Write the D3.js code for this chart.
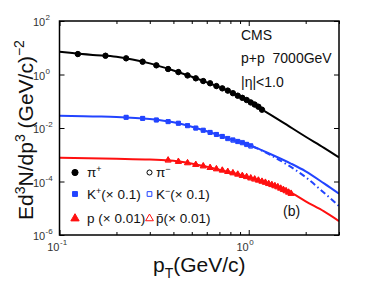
<!DOCTYPE html>
<html>
<head>
<meta charset="utf-8">
<script src="https://cdn.jsdelivr.net/npm/d3@7"></script>
<style>
  body { margin: 0; background: #fff; }
  text { font-family: "Liberation Sans", Arial, sans-serif; }
</style>
</head>
<body>
<div id="chart"></div>
<script>
// measured points (pT in GeV/c)
const piPt = [0.125, 0.175, 0.225, 0.275, 0.325, 0.375, 0.425, 0.475, 0.525, 0.575, 0.625,
  0.675, 0.725, 0.775, 0.825, 0.875, 0.925, 0.975, 1.025, 1.075, 1.125, 1.175];
const piPlus = [5.83, 5.05, 4.04, 3.02, 2.21, 1.61, 1.24, 0.93, 0.72, 0.57, 0.47,
  0.37, 0.305, 0.25, 0.20, 0.162, 0.135, 0.112, 0.091, 0.076, 0.063, 0.049];
const piMinus = [5.80, 5.02, 4.02, 3.00, 2.20, 1.60, 1.23, 0.92, 0.72, 0.57, 0.47,
  0.37, 0.303, 0.25, 0.20, 0.161, 0.134, 0.111, 0.090, 0.075, 0.062, 0.048];

const kPt = [0.225, 0.275, 0.325, 0.375, 0.425, 0.475, 0.525, 0.575, 0.625, 0.675, 0.725,
  0.775, 0.825, 0.875, 0.925, 0.975, 1.025];
const kPlus = [0.0251, 0.0229, 0.0200, 0.0174, 0.0151, 0.0123, 0.0100, 0.0083, 0.0069, 0.0058, 0.0049,
  0.0041, 0.0036, 0.0032, 0.0029, 0.0025, 0.0022];
const kMinus = [0.0250, 0.0228, 0.0199, 0.0173, 0.0150, 0.0122, 0.0099, 0.0082, 0.0068, 0.0057, 0.0048,
  0.0040, 0.0035, 0.0031, 0.0028, 0.0024, 0.0021];

const pPt = [0.375, 0.425, 0.475, 0.525, 0.575, 0.625, 0.675, 0.725, 0.775, 0.825, 0.875, 0.925, 0.975,
  1.025, 1.075, 1.125, 1.175, 1.225, 1.275, 1.325, 1.375, 1.425, 1.475, 1.525, 1.575, 1.625, 1.675];
const proton = [6.3e-4, 5.6e-4, 5.0e-4, 4.3e-4, 3.8e-4, 3.3e-4, 2.95e-4, 2.63e-4, 2.34e-4, 2.09e-4, 1.86e-4, 1.66e-4, 1.51e-4,
  1.35e-4, 1.23e-4, 1.12e-4, 1.02e-4, 9.3e-5, 8.3e-5, 7.6e-5, 6.9e-5, 6.3e-5, 5.6e-5, 5.0e-5, 4.5e-5, 4.0e-5, 3.6e-5];
const antiproton = [6.2e-4, 5.5e-4, 4.9e-4, 4.25e-4, 3.75e-4, 3.27e-4, 2.92e-4, 2.6e-4, 2.32e-4, 2.07e-4, 1.84e-4, 1.64e-4, 1.49e-4,
  1.33e-4, 1.21e-4, 1.10e-4, 1.0e-4, 9.1e-5, 8.2e-5, 7.5e-5, 6.8e-5, 6.2e-5, 5.5e-5, 4.9e-5, 4.4e-5, 3.9e-5, 3.5e-5];

// fitted curves
const fitPt = [0.1, 0.15, 0.2, 0.3, 0.4, 0.5, 0.6, 0.8, 1.0, 1.2, 1.5, 2.0, 2.5, 3.0];
const piFit = [7.1, 5.4, 4.6, 2.6, 1.41, 0.82, 0.51, 0.224, 0.10, 0.045, 0.017, 0.0047, 0.0018, 7.9e-4];
const kFitPt = [0.1, 0.15, 0.2, 0.3, 0.4, 0.5, 0.6, 0.8, 1.0, 1.3, 1.67, 2.0, 2.5, 3.0];
const kPlusFit = [0.029, 0.027, 0.0258, 0.0215, 0.0163, 0.0111, 0.0076, 0.00385, 0.00234, 0.00107, 4.7e-4, 2.4e-4, 8.5e-5, 3.5e-5];
const kMinusFitPt = [0.9, 1.0, 1.3, 1.67, 2.0, 2.5, 3.0];
const kMinusFit = [0.0030, 0.00234, 9.8e-4, 3.5e-4, 1.45e-4, 3.8e-5, 1.2e-5];
const pFitPt = [0.1, 0.2, 0.3, 0.4, 0.6, 0.8, 1.0, 1.25, 1.7, 2.0, 2.5, 3.0];
const pFit = [7.8e-4, 7.1e-4, 6.6e-4, 6.0e-4, 3.6e-4, 2.2e-4, 1.45e-4, 8.9e-5, 3.6e-5, 1.8e-5, 7.6e-6, 3.3e-6];

// ticks
const xMajor = [0.1, 1];
const xMajorExp = ["-1", "0"];
const xMinor = [0.2, 0.3, 0.4, 0.5, 0.6, 0.7, 0.8, 0.9, 2, 3];
const yMajor = [1e2, 1, 1e-2, 1e-4, 1e-6];
const yMajorExp = ["2", "0", "-2", "-4", "-6"];

const W = 374, H = 282;
const L = 59.5, R = 339, T = 21, B = 235;
const blue = "#2244ff", red = "#ff1010";

const svg = d3.select("#chart").append("svg")
  .attr("width", W).attr("height", H);

const x = d3.scaleLog().domain([0.1, 3]).range([L, R]);
const y = d3.scaleLog().domain([1e-6, 1e2]).range([B, T]);

svg.append("clipPath").attr("id", "clip")
  .append("rect").attr("x", L).attr("y", T).attr("width", R - L).attr("height", B - T);

// ticks (inward), no labels from d3
function noDomain(g) { g.select(".domain").remove(); }
svg.append("g").attr("transform", `translate(0,${B})`)
  .call(d3.axisBottom(x).tickValues(xMinor).tickSize(-3).tickFormat("")).call(noDomain);
svg.append("g").attr("transform", `translate(0,${B})`)
  .call(d3.axisBottom(x).tickValues(xMajor).tickSize(-5).tickFormat("")).call(noDomain);
svg.append("g").attr("transform", `translate(0,${T})`)
  .call(d3.axisTop(x).tickValues(xMinor).tickSize(-3).tickFormat("")).call(noDomain);
svg.append("g").attr("transform", `translate(0,${T})`)
  .call(d3.axisTop(x).tickValues(xMajor).tickSize(-5).tickFormat("")).call(noDomain);
svg.append("g").attr("transform", `translate(${L},0)`)
  .call(d3.axisLeft(y).tickValues(yMajor).tickSize(-5).tickFormat("")).call(noDomain);
svg.append("g").attr("transform", `translate(${R},0)`)
  .call(d3.axisRight(y).tickValues(yMajor).tickSize(-5).tickFormat("")).call(noDomain);
svg.selectAll(".tick line").attr("stroke", "#000").attr("stroke-width", 1);

// tick labels 10^n
xMajor.forEach((v, i) => {
  svg.append("text").attr("x", x(v)).attr("y", 251)
    .attr("text-anchor", "end").attr("font-size", 11).attr("fill", "#333").text("10");
  svg.append("text").attr("x", x(v) + 0.5).attr("y", 244.5)
    .attr("font-size", 8).attr("fill", "#333").text(xMajorExp[i]);
});
yMajor.forEach((v, i) => {
  svg.append("text").attr("x", 33).attr("y", y(v) + 5)
    .attr("font-size", 11).attr("fill", "#333").text("10");
  svg.append("text").attr("x", 45.5).attr("y", y(v) - 1)
    .attr("font-size", 8).attr("fill", "#333").text(yMajorExp[i]);
});

// curves
const line = d3.line().x(d => x(d[0])).y(d => y(d[1])).curve(d3.curveMonotoneX);
const plot = svg.append("g").attr("clip-path", "url(#clip)");
function curve(pts, vals, color, dash) {
  plot.append("path").datum(pts.map((p, i) => [p, vals[i]]))
    .attr("d", line).attr("fill", "none").attr("stroke", color)
    .attr("stroke-width", 2).attr("stroke-dasharray", dash || null);
}
curve(fitPt, piFit, "#000");
curve(kFitPt, kPlusFit, blue);
curve(kMinusFitPt, kMinusFit, blue, "6,3,1.5,3");
curve(pFitPt, pFit, red);

// markers
const sym = (type, size) => d3.symbol().type(type).size(size)();
function points(pts, vals, type, size, color, filled) {
  plot.append("g").selectAll("path").data(pts.map((p, i) => [p, vals[i]]))
    .join("path")
    .attr("transform", d => `translate(${x(d[0])},${y(d[1])})`)
    .attr("d", sym(type, size))
    .attr("fill", filled ? color : "#fff")
    .attr("stroke", color).attr("stroke-width", filled ? 0.5 : 1);
}
points(piPt, piMinus, d3.symbolCircle, 22, "#000", false);
points(piPt, piPlus, d3.symbolCircle, 22, "#000", true);
points(kPt, kMinus, d3.symbolSquare, 16, blue, false);
points(kPt, kPlus, d3.symbolSquare, 16, blue, true);
points(pPt, antiproton, d3.symbolTriangle, 16, red, false);
points(pPt, proton, d3.symbolTriangle, 16, red, true);

// frame
svg.append("rect").attr("x", L).attr("y", T).attr("width", R - L).attr("height", B - T)
  .attr("fill", "none").attr("stroke", "#000").attr("stroke-width", 1.5);

// annotations
const ann = svg.append("g").attr("font-size", 14).attr("fill", "#111");
ann.append("text").attr("x", 241).attr("y", 39.5).text("CMS");
ann.append("text").attr("x", 241).attr("y", 63).attr("xml:space", "preserve").text("p+p  7000GeV");
ann.append("text").attr("x", 241).attr("y", 86.5).text("|η|<1.0");
ann.append("text").attr("x", 283).attr("y", 216).text("(b)");

// legend
const legRows = [172.5, 194, 218.5];
const legend = [
  { col: 0, row: 0, type: d3.symbolCircle, size: 30, color: "#000", filled: true, label: ["π", "+", ""] },
  { col: 1, row: 0, type: d3.symbolCircle, size: 20, color: "#000", filled: false, label: ["π", "−", ""] },
  { col: 0, row: 1, type: d3.symbolSquare, size: 24, color: blue, filled: true, label: ["K", "+", "(× 0.1)"] },
  { col: 1, row: 1, type: d3.symbolSquare, size: 22, color: blue, filled: false, label: ["K", "−", "(× 0.1)"] },
  { col: 0, row: 2, type: d3.symbolTriangle, size: 30, color: red, filled: true, label: ["p (× 0.01)", "", ""] },
  { col: 1, row: 2, type: d3.symbolTriangle, size: 26, color: red, filled: false, label: ["p̄(× 0.01)", "", ""] }
];
const colMarkX = [75, 149.5], colTextX = [87, 156];
legend.forEach(d => {
  const cy = legRows[d.row];
  svg.append("path").attr("transform", `translate(${colMarkX[d.col]},${cy})`)
    .attr("d", sym(d.type, d.size))
    .attr("fill", d.filled ? d.color : "#fff")
    .attr("stroke", d.color).attr("stroke-width", 1);
  const t = svg.append("text").attr("x", colTextX[d.col]).attr("y", cy + 4.5)
    .attr("font-size", 13.5).attr("fill", "#111");
  t.append("tspan").text(d.label[0]);
  if (d.label[1]) t.append("tspan").attr("dy", -5).attr("font-size", 9).text(d.label[1]);
  if (d.label[2]) t.append("tspan").attr("dy", 5).text(d.label[2]);
});

// axis titles
const yl = svg.append("text").attr("transform", "translate(33,130) rotate(-90)")
  .attr("text-anchor", "middle").attr("font-size", 21).attr("fill", "#111");
yl.append("tspan").text("Ed");
yl.append("tspan").attr("dy", -8).attr("font-size", 14).text("3");
yl.append("tspan").attr("dy", 8).text("N/dp");
yl.append("tspan").attr("dy", -8).attr("font-size", 14).text("3");
yl.append("tspan").attr("dy", 8).text(" (GeV/c)");
yl.append("tspan").attr("dy", -9).attr("font-size", 14).text("−2");

const xl = svg.append("text").attr("x", 153).attr("y", 272)
  .attr("font-size", 21).attr("fill", "#111");
xl.append("tspan").text("p");
xl.append("tspan").attr("dy", 6).attr("font-size", 14).text("T");
xl.append("tspan").attr("dy", -6).text("(GeV/c)");
</script>
</body>
</html>
